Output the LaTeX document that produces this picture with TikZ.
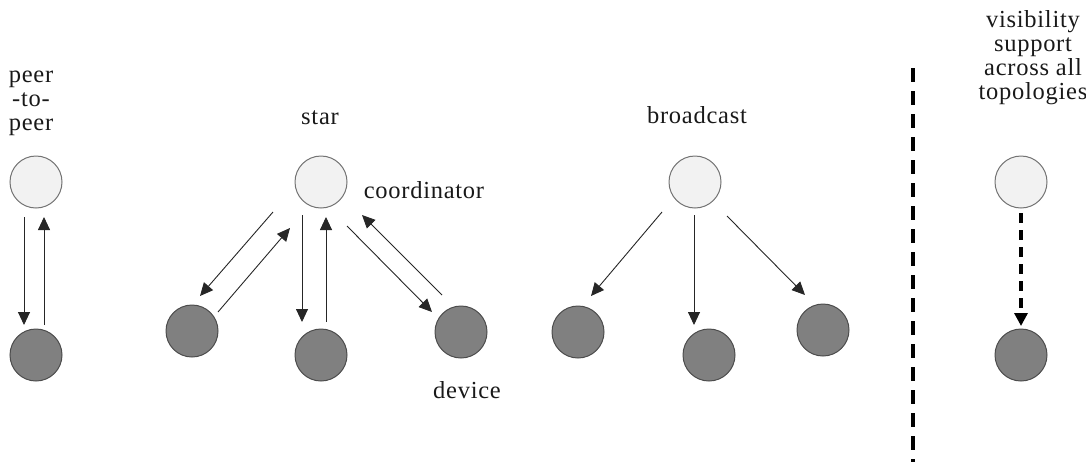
\documentclass[tikz,border=0pt]{standalone}
\usepackage{fontspec}
\setmainfont{Liberation Serif}[LetterSpace=3]
\usetikzlibrary{arrows.meta,calc}
\begin{document}
\begin{tikzpicture}[x=1pt,y=-1pt,
  lightnode/.style={circle,draw=black!55,fill=black!5,line width=1pt,minimum size=52pt,inner sep=0pt},
  darknode/.style={circle,draw=black!70,fill=black!50,line width=1pt,minimum size=52pt,inner sep=0pt},
  lbl/.style={font=\fontsize{24.5}{24}\selectfont,text=black!90,inner sep=0pt,align=center},
  arr/.style={line width=0.9pt,draw=black!85,-{Triangle[length=13pt,width=12pt]}},
  dasharr/.style={line width=3.2pt,dash pattern=on 10pt off 7pt,-{Triangle[length=13pt,width=13pt]}},
  sepline/.style={line width=3.5pt,dash pattern=on 14pt off 9pt}]
\useasboundingbox (0,0) rectangle (1086,464);
% peer-to-peer
\node[lbl] (ptxt) at (31,103) {peer\\-to-\\peer};
\node[lightnode] (pc) at (36,182) {};
\node[darknode] (pd) at (36,355) {};
\draw[arr] ([shift={(-12,35)}]pc.center) -- ([shift={(-12,-30)}]pd.center);
\draw[arr] ([shift={(8,-30)}]pd.center) -- ([shift={(8,35)}]pc.center);
% star
\node[lbl] (stxt) at (320,118) {star};
\node[lightnode] (sc) at (321,182) {};
\node[darknode] (sl) at (192,331) {};
\node[darknode] (sm) at (321,355) {};
\node[darknode] (sr) at (461,332) {};
\node[lbl] (coord) at (424,190) {coordinator};
\node[lbl] (dev) at (467,390) {device};
\draw[arr] ([shift={(-48,30)}]sc.center) -- ([shift={(8,-35)}]sl.center);
\draw[arr] ([shift={(26,-19)}]sl.center) -- ([shift={(-31,46)}]sc.center);
\draw[arr] ([shift={(-19,33)}]sc.center) -- ([shift={(-19,-33)}]sm.center);
\draw[arr] ([shift={(5,-33)}]sm.center) -- ([shift={(5,35)}]sc.center);
\draw[arr] ([shift={(26,44)}]sc.center) -- ([shift={(-29,-20)}]sr.center);
\draw[arr] ([shift={(-19,-37)}]sr.center) -- ([shift={(41,33)}]sc.center);
% broadcast
\node[lbl] (btxt) at (697,115) {broadcast};
\node[lightnode] (bc) at (695,182) {};
\node[darknode] (bl) at (578,332) {};
\node[darknode] (bm) at (709,355) {};
\node[darknode] (br) at (823,330) {};
\draw[arr] ([shift={(-33,30)}]bc.center) -- ([shift={(13,-36)}]bl.center);
\draw[arr] ([shift={(-1,33)}]bc.center) -- ([shift={(-15,-30)}]bm.center);
\draw[arr] ([shift={(32,34)}]bc.center) -- ([shift={(-18,-35)}]br.center);
% separator
\coordinate (s1) at (913,68);
\coordinate (s2) at (913,462);
\draw[sepline] (s1) -- (s2);
% visibility
\node[lbl] (vtxt) at (1033,58) {visibility\\support\\across all\\topologies};
\node[lightnode] (vc) at (1021,182) {};
\node[darknode] (vd) at (1021,355) {};
\draw[dasharr] ([shift={(0,31)}]vc.center) -- ([shift={(0,-29)}]vd.center);
\end{tikzpicture}
\end{document}
